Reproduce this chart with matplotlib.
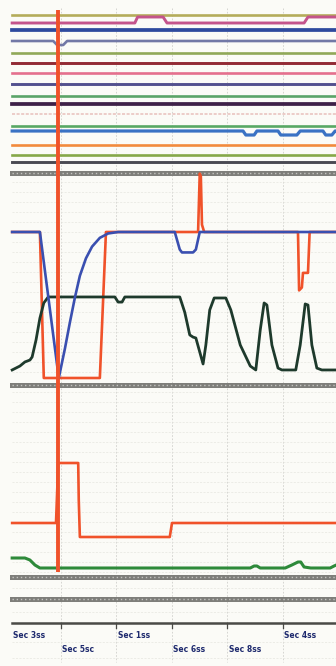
import numpy as np
import matplotlib.pyplot as plt

# ---- time base (seconds) ----
t_start, t_end = 0.12, 5.96
tick_t = [1, 2, 3, 4, 5]
cursor_t = 0.94
tick_labels = ['Sec 3ss', 'Sec 5sc', 'Sec 1ss', 'Sec 6ss', 'Sec 8ss', 'Sec 4ss']
label_t = [0.12, 1, 2, 3, 4, 5]
label_row = [0, 1, 0, 1, 1, 0]

# ---- digital channels: state changes ----
pink_t = [t_start, 2.33, 2.38, 2.84, 2.91, 5.38, 5.45, t_end]
pink_s = [0, 0, 1, 1, 0, 0, 1, 1]
slate_t = [t_start, 0.86, 0.93, 1.04, 1.11, t_end]
slate_s = [0, 0, -1, -1, 0, 0]
blue_dig_t = [t_start, 4.28, 4.33, 4.48, 4.53, 4.91, 4.96, 5.25, 5.31,
              5.72, 5.77, 5.88, 5.94, t_end]
blue_dig_s = [0, 0, -1, -1, 0, 0, -1, -1, 0, 0, -1, -1, 0, 0]

# ---- analog traces, middle panel ----
red_t = [t_start, 0.62, 0.69, 1.70, 1.81, 3.47, 3.50, 3.52, 3.54, 3.58,
         5.27, 5.29, 5.34, 5.36, 5.45, 5.48, t_end]
red_v = [100, 100, 0, 0, 100, 100, 140, 138, 105, 100,
         100, 60, 62, 72, 72, 100, 100]
blue_t = [t_start, 0.62, 0.96, 1.07, 1.16, 1.25, 1.34, 1.45, 1.56, 1.70,
          1.85, 2.03, 3.05, 3.14, 3.18, 3.38, 3.43, 3.50, t_end]
blue_v = [100, 100, 0, 20, 38, 55, 70, 82, 90, 96,
          99, 100, 100, 88, 86, 86, 88, 100, 100]
dark_t = [t_start, 0.26, 0.35, 0.44, 0.48, 0.55, 0.62, 0.69, 0.77, 1.97,
          2.03, 2.10, 2.15, 3.14, 3.23, 3.32, 3.38, 3.43, 3.49, 3.56,
          3.61, 3.68, 3.76, 3.97, 4.06, 4.23, 4.41, 4.51, 4.59, 4.66,
          4.71, 4.80, 4.91, 4.98, 5.23, 5.31, 5.40, 5.45, 5.52, 5.61,
          5.70, t_end]
dark_v = [5.5, 8.2, 11, 12.3, 14.4, 26, 41, 51.4, 55.5, 55.5,
          52, 52, 55.5, 55.5, 45, 29.5, 28, 27.4, 19.2, 9.6,
          22.6, 46.6, 54.8, 54.8, 46.6, 22.6, 8.2, 5.5, 32.9, 51.4,
          50, 22.6, 6.8, 5.5, 5.5, 22.6, 50.7, 50, 22.6, 6.8,
          5.5, 5.5]

# ---- analog traces, lower panel ----
red2_t = [t_start, 0.91, 0.95, 1.31, 1.32, 1.34, 2.96, 3.00, t_end]
red2_v = [49, 49, 109, 109, 72, 35, 35, 49, 49]
green_t = [t_start, 0.35, 0.44, 0.53, 0.62, 4.41, 4.48, 4.53, 4.59, 5.04,
           5.16, 5.27, 5.32, 5.38, 5.50, 5.85, 5.92, t_end]
green_v = [14, 14, 12, 7, 4, 4, 6, 6, 4, 4,
           7, 10, 10, 5, 4, 4, 6, 7]

# layout of the digital rows (y from top, px) and their pens
dig_rows = [15, 23, 30, 41, 53, 63, 73, 84, 96, 104, 114, 126, 131, 145, 155, 162]
dig_colors = ['#b4ac5a', '#c4548c', '#2e4a9e', '#7278a6', '#90a858', '#922a34',
              '#e4708e', '#52508e', '#5aa468', '#3e2048', '#e8c0bc', '#58a864',
              '#3a72c4', '#f28a3c', '#86a848', '#4a4a52']
dig_widths = [1.9, 2.1, 2.7, 1.9, 1.9, 2.1, 1.9, 2.1, 1.9, 2.7, 1.1, 1.9,
              2.3, 1.9, 1.9, 2.1]
dig_events = {1: (pink_t, pink_s, -6), 3: (slate_t, slate_s, -4),
              12: (blue_dig_t, blue_dig_s, -4)}

RED = '#f0522a'

fig = plt.figure(figsize=(3.36, 6.66), dpi=100, facecolor='#fbfbf7')
ax = fig.add_axes([0, 0, 1, 1])
ax.set_facecolor('#fbfbf7')
ax.set_xlim(-0.099, 5.955)
ax.set_ylim(666, 0)
ax.axis('off')

# background grid
for tt in tick_t:
    ax.plot([tt, tt], [8, 662], color='#cfcfcb', lw=0.6, dashes=(2, 2), zorder=0)
for y in list(range(182, 382, 10)) + list(range(392, 575, 10)) + [588, 612, 642, 658]:
    ax.plot([t_start, t_end], [y, y], color='#e6e6e0', lw=0.5, dashes=(3, 2), zorder=0)

# digital channels
for i, (row, col, lw) in enumerate(zip(dig_rows, dig_colors, dig_widths)):
    if i in dig_events:
        tt, ss, amp = dig_events[i]
        ax.plot(tt, row + amp * np.array(ss), color=col, lw=lw, solid_joinstyle='round')
    elif i == 10:
        ax.plot([t_start, t_end], [row, row], color=col, lw=lw, dashes=(2, 1))
    else:
        ax.plot([t_start, t_end], [row, row], color=col, lw=lw)

# separators between panels
for y in [173, 385, 577, 599]:
    ax.plot([t_start, t_end], [y, y], color='#7e7e7a', lw=3.6, zorder=2)
    ax.plot([t_start, t_end], [y, y], color='#c4c4c0', lw=1.0, dashes=(1, 2), zorder=2)
ax.plot([t_start, t_end], [623, 623], color='#4a4a46', lw=1.8)
for tt in tick_t:
    ax.plot([tt, tt], [623, 628], color='#4a4a46', lw=0.9)

# middle panel: 0 at y=378, 1.46 px per unit
mid_base, mid_scale = 378, 1.46
ax.plot(red_t, mid_base - mid_scale * np.array(red_v), color=RED, lw=1.9, zorder=3)
ax.plot(blue_t, mid_base - mid_scale * np.array(blue_v), color='#3a4fb0', lw=1.9, zorder=4)
ax.plot(dark_t, mid_base - mid_scale * np.array(dark_v), color='#1e3a2c', lw=2.0, zorder=3)

# lower panel: 0 at y=572, 1 px per unit
low_base = 572
ax.plot(red2_t, low_base - np.array(red2_v), color=RED, lw=1.9, zorder=3)
ax.plot(green_t, low_base - np.array(green_v), color='#2e8a3a', lw=2.2, zorder=3)

# cursor
ax.vlines(cursor_t, 10, 572, color=RED, lw=2.8, zorder=6)

# time labels
for tt, txt, r in zip(label_t, tick_labels, label_row):
    ax.text(tt + 0.02, 635 + 14 * r, txt, fontsize=5.5, fontweight='bold',
            color='#1e2a6e', ha='left', va='center')

fig.savefig('out.png', dpi=100, facecolor=fig.get_facecolor())
